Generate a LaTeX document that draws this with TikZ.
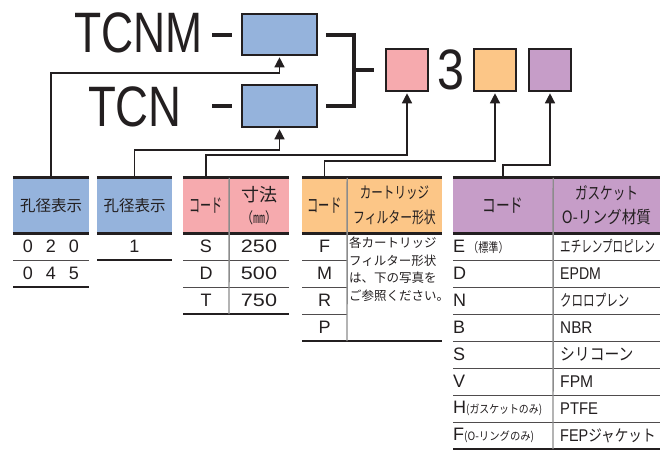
\documentclass[tikz,border=0pt]{standalone}
\usepackage{fontspec}
\setmainfont{Liberation Sans}
\newfontfamily\jp{Noto Sans CJK JP}
\usetikzlibrary{arrows.meta,positioning,calc}
\definecolor{ink}{HTML}{231F20}
\definecolor{bluefill}{HTML}{95B3DC}
\definecolor{pinkfill}{HTML}{F6AAAE}
\definecolor{orangefill}{HTML}{FCC687}
\definecolor{purplefill}{HTML}{C69DC8}
\definecolor{rulegray}{HTML}{8C8C8C}
\newcommand{\cnd}[2][0.8]{\scalebox{#1}[1]{#2}} % condensed text
\tikzset{x=1pt, y=-1pt, % one unit = one pixel of the reference, y downwards
        codebox/.style={ % the blanks of the part number
            draw=ink, line width=1.6pt,
            minimum width=75pt, minimum height=41pt, inner sep=0pt},
        smallbox/.style={codebox, minimum width=42pt, minimum height=42pt},
        bigtext/.style={inner sep=0pt, text=ink, font=\fontsize{57}{60}\selectfont},
        headcell/.style={ % coloured table headers
            inner sep=0pt, minimum height=55pt, text=ink, align=center,
            font=\jp\fontsize{15.5}{17}\selectfont},
        bodycell/.style={inner sep=0pt, text=ink, font=\fontsize{18}{20}\selectfont},
        linkline/.style={draw=ink, line width=1.4pt, shorten >=1.5pt,
            -{Triangle[length=10pt,width=10pt]}},
        barline/.style={draw=ink, line width=4pt, line join=miter},
        thickrule/.style={draw=ink, line width=2.8pt},
        thinrule/.style={draw=ink!80, line width=0.9pt},
        colrule/.style={draw=rulegray, line width=1.4pt}
        }
\begin{document}
\begin{tikzpicture}
    \useasboundingbox (0,0) rectangle (661,455);

    % part number
    \node[bigtext, anchor=east] (tcnm) at (203,33) {\cnd[0.78]{TCNM}};
    \node[bigtext, anchor=east] (tcn)  at (182,107) {\cnd[0.8]{TCN}};
    \node[codebox, fill=bluefill] (boxA) at (279.5,34.5) {};
    \node[codebox, fill=bluefill, minimum height=42pt] (boxB) at (279.5,106) {};
    \node[smallbox, fill=pinkfill]   (pink)   at (407,70) {};
    \node[bigtext] (three) at (451,70) {\cnd[0.85]{3}};
    \node[smallbox, fill=orangefill] (orange) at (495,70) {};
    \node[smallbox, fill=purplefill] (purple) at (550,70) {};

    \draw[barline] ([xshift=-29pt]boxA.west) -- ([xshift=-9pt]boxA.west);
    \draw[barline] ([xshift=-29pt]boxB.west) -- ([xshift=-9pt]boxB.west);
    \draw[barline] ([xshift=8pt]boxA.east) -- ++(28,0) |- ([xshift=8pt]boxB.east);
    \draw[barline] ([xshift=-33pt]pink.west) -- ([xshift=-11pt]pink.west);

    % table headers
    \node[headcell, fill=bluefill, minimum width=76pt] (hA) at (51,205.5) {孔径表示};
    \node[headcell, fill=bluefill, minimum width=75pt] (hB) at (134.5,205.5) {孔径表示};
    \node[headcell, fill=pinkfill, minimum width=46pt, font=\jp\fontsize{19}{21}\selectfont] (hC1) at (206,205.5) {\cnd[0.58]{コード}};
    \node[headcell, fill=pinkfill, minimum width=60pt, font=\jp\fontsize{18}{22}\selectfont] (hC2) at (259,205.5)
        {寸法\\{\fontsize{15}{22}\selectfont\cnd[0.8]{（㎜）}}};
    \node[headcell, fill=orangefill, minimum width=45pt, font=\jp\fontsize{19}{21}\selectfont] (hD1) at (324.5,205.5) {\cnd[0.59]{コード}};
    \node[headcell, fill=orangefill, minimum width=95pt, font=\jp\fontsize{16}{25}\selectfont] (hD2) at (394.5,205.5)
        {\cnd[0.72]{カートリッジ}\\\cnd[0.74]{フィルター形状}};
    \node[headcell, fill=purplefill, minimum width=100pt, font=\jp\fontsize{19}{21}\selectfont] (hE1) at (503,205.5) {\cnd[0.72]{コード}};
    \node[headcell, fill=purplefill, minimum width=107pt, font=\jp\fontsize{17}{24}\selectfont] (hE2) at (606.5,205.5)
        {\cnd[0.74]{ガスケット}\\\cnd[0.86]{O-リング材質}};

    % rules
    \draw[thickrule] (hA.north west) -- (hA.north east) (hA.south west) -- (hA.south east);
    \draw[thickrule] (hB.north west) -- (hB.north east) (hB.south west) -- (hB.south east);
    \draw[thickrule] (hC1.north west) -- (hC2.north east) (hC1.south west) -- (hC2.south east);
    \draw[thickrule] (hD1.north west) -- (hD2.north east) (hD1.south west) -- (hD2.south east);
    \draw[thickrule] (hE1.north west) -- (hE2.north east) (hE1.south west) -- (hE2.south east);
    \draw[thinrule] (13,260) -- (89,260);
    \draw[thickrule] (13,287) -- (89,287) (97,260) -- (172,260);
    \draw[thinrule] (183,260) -- (289,260) (183,287) -- (289,287);
    \draw[thickrule] (183,314) -- (289,314);
    \draw[thinrule] (302,260) -- (347,260) (302,287) -- (347,287) (302,314) -- (347,314);
    \draw[thickrule] (302,341) -- (442,341);
    \draw[thinrule] (453,260) -- (660,260) (453,287) -- (660,287) (453,314) -- (660,314)
        (453,341) -- (660,341) (453,368) -- (660,368) (453,395) -- (660,395) (453,422) -- (660,422);
    \draw[thickrule] (453,449) -- (660,449);
    \draw[colrule] (hC1.north east) -- (229,314);
    \draw[colrule] (hD1.north east) -- (347,341);
    \draw[colrule] (hE1.north east) -- (553,449);

    % table entries
    \node[bodycell] (d020) at (51,246.5) {0\hspace{13pt}2\hspace{13pt}0};
    \node[bodycell] (d045) at (51,273.5) {0\hspace{13pt}4\hspace{13pt}5};
    \node[bodycell] (d1)   at (134.5,246.5) {1};
    \node[bodycell] (cS) at (206,246.5) {S};
    \node[bodycell] (cD) at (206,273.5) {D};
    \node[bodycell] (cT) at (206,300.5) {T};
    \node[bodycell] (v250) at (259,246.5) {\cnd[1.2]{250}};
    \node[bodycell] (v500) at (259,273.5) {\cnd[1.2]{500}};
    \node[bodycell] (v750) at (259,300.5) {\cnd[1.2]{750}};
    \node[bodycell] (fF) at (324.5,246.5) {F};
    \node[bodycell] (fM) at (324.5,273.5) {M};
    \node[bodycell] (fR) at (324.5,300.5) {R};
    \node[bodycell] (fP) at (324.5,327.5) {P};
    \node[bodycell, anchor=north west, align=left, font=\jp\fontsize{12.5}{17.5}\selectfont] (note) at (349,237)
        {各カートリッジ\\フィルター形状\\は、下の写真を\\ご参照ください。};
    \node[bodycell, anchor=west] (gE) at (453,246.5) {E\,{\jp\fontsize{13}{14}\selectfont\cnd[0.78]{（標準）}}};
    \node[bodycell, anchor=west] (gD) at (453,273.5) {D};
    \node[bodycell, anchor=west] (gN) at (453,300.5) {N};
    \node[bodycell, anchor=west] (gB) at (453,327.5) {B};
    \node[bodycell, anchor=west] (gS) at (453,354.5) {S};
    \node[bodycell, anchor=west] (gV) at (453,381.5) {V};
    \node[bodycell, anchor=west] (gH) at (453,408.5) {H{\jp\fontsize{11.5}{13}\selectfont\cnd[0.86]{(ガスケットのみ)}}};
    \node[bodycell, anchor=west] (gF) at (453,435.5) {F{\jp\fontsize{11.5}{13}\selectfont\cnd[0.9]{(O-リングのみ)}}};
    \node[bodycell, anchor=west, font=\jp\fontsize{16}{18}\selectfont] (mE) at (560,246.5) {\cnd[0.66]{エチレンプロピレン}};
    \node[bodycell, anchor=west, font=\fontsize{17}{19}\selectfont] (mD) at (560,273.5) {\cnd[0.83]{EPDM}};
    \node[bodycell, anchor=west, font=\jp\fontsize{16}{18}\selectfont] (mN) at (560,300.5) {\cnd[0.72]{クロロプレン}};
    \node[bodycell, anchor=west, font=\fontsize{17}{19}\selectfont] (mB) at (560,327.5) {\cnd[0.9]{NBR}};
    \node[bodycell, anchor=west, font=\jp\fontsize{17}{19}\selectfont] (mS) at (560,354.5) {\cnd[0.87]{シリコーン}};
    \node[bodycell, anchor=west, font=\fontsize{17}{19}\selectfont] (mV) at (560,381.5) {\cnd[0.92]{FPM}};
    \node[bodycell, anchor=west, font=\fontsize{17}{19}\selectfont] (mH) at (560,408.5) {\cnd[0.87]{PTFE}};
    \node[bodycell, anchor=west, font=\fontsize{17}{19}\selectfont] (mF) at (560,435.5)
        {\cnd[0.85]{FEP{\jp\fontsize{16}{18}\selectfont ジャケット}}};

    % connectors from the tables to the blanks
    \coordinate (e1) at (0,73);
    \coordinate (e2) at (0,150);
    \coordinate (e3) at (0,155);
    \coordinate (e4) at (0,161);
    \coordinate (e5) at (0,165);
    \draw[linkline] (hA.north)  |- (boxA.south |- e1) -- (boxA.south);
    \draw[linkline] (hB.north)  |- (boxB.south |- e2) -- (boxB.south);
    \draw[linkline] (hC1.north) |- (pink.south |- e3) -- (pink.south);
    \draw[linkline] (hD1.north) |- (orange.south |- e4) -- (orange.south);
    \draw[linkline] (hE1.north) |- (purple.south |- e5) -- (purple.south);
\end{tikzpicture}
\end{document}
